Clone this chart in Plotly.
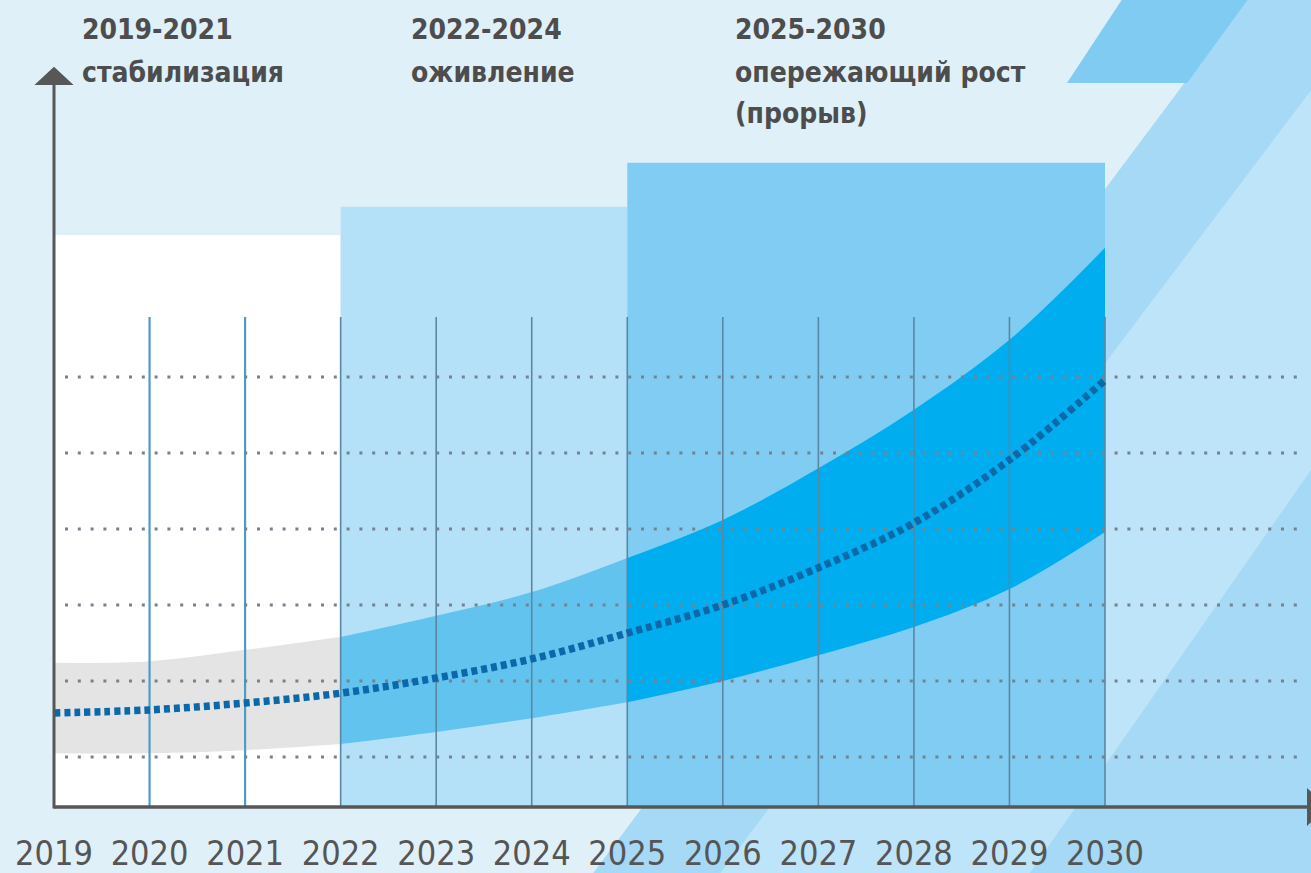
import plotly.graph_objects as go

# ---------------- data ----------------
years = list(range(2019, 2031))
tick_labels = [str(y) for y in years]

# index scale: dotted reference levels are 1..6
center = [1.58, 1.62, 1.71, 1.84, 2.04, 2.29, 2.63, 3.00, 3.49, 4.08, 4.91, 5.96]
upper = [2.24, 2.26, 2.41, 2.58, 2.86, 3.17, 3.62, 4.12, 4.80, 5.57, 6.49, 7.70]
lower = [1.05, 1.05, 1.09, 1.17, 1.33, 1.51, 1.72, 2.00, 2.34, 2.71, 3.21, 3.96]

period_start = [2019, 2022, 2025]
period_end = [2022, 2025, 2030]
period_top = [7.87, 8.24, 8.82]
period_titles = ["2019-2021", "2022-2024", "2025-2030"]
period_names = [["стабилизация"], ["оживление"], ["опережающий рост", "(прорыв)"]]

grid_levels = [1, 2, 3, 4, 5, 6]
vgrid_years = list(range(2020, 2031))
vgrid_top = 6.79
baseline = 0.342

# ---------------- styles ----------------
W, H = 1311, 873
BG = "#e0f0f8"
period_colors = ["#ffffff", "#b5e1f8", "#80ccf2"]
band_colors = ["#e4e4e4", "#63c3ef", "#00aeef"]
TEXT = "#4d4d4d"
AXIS = "#575757"
FONT = "DejaVu Sans Condensed, Liberation Sans Narrow, sans-serif"

X0, X1 = 2018.4348, 2032.156
Y0, Y1 = -0.5263, 10.9605


def px(x, y):
    """pixel -> paper coordinates (decoration only)"""
    return x / W, 1 - y / H


def poly(points):
    pts = [px(x, y) for x, y in points]
    return "M " + " L ".join(f"{a:.5f},{b:.5f}" for a, b in pts) + " Z"


fig = go.Figure()

# period blocks as bars
fig.add_trace(go.Bar(
    x=[(s + e) / 2 for s, e in zip(period_start, period_end)],
    y=[t - baseline for t in period_top],
    base=baseline,
    width=[e - s for s, e in zip(period_start, period_end)],
    marker=dict(color=period_colors, line=dict(width=0)),
    hoverinfo="skip", showlegend=False,
))

# forecast corridor, one segment per period
for s, e, col in zip(period_start, period_end, band_colors):
    idx = [i for i, y in enumerate(years) if s <= y <= e]
    xs = [years[i] for i in idx]
    fig.add_trace(go.Scatter(
        x=xs, y=[lower[i] for i in idx], mode="lines",
        line=dict(width=0, shape="spline", smoothing=1, color=col),
        hoverinfo="skip", showlegend=False))
    fig.add_trace(go.Scatter(
        x=xs, y=[upper[i] for i in idx], mode="lines",
        line=dict(width=0, shape="spline", smoothing=1, color=col),
        fill="tonexty", fillcolor=col,
        hoverinfo="skip", showlegend=False))

# vertical year lines
for grp, col, w in [([y for y in vgrid_years if y < 2022], "#4e9bc7", 2.2),
                    ([y for y in vgrid_years if y >= 2022], "#5a87a3", 1.6)]:
    xs, ys = [], []
    for y in grp:
        xs += [y, y, None]
        ys += [baseline, vgrid_top, None]
    fig.add_trace(go.Scatter(x=xs, y=ys, mode="lines",
                             line=dict(color=col, width=w),
                             hoverinfo="skip", showlegend=False))

# dotted horizontal levels
gx0 = 2019 + 11 / 95.545
gx1 = 2019 + 1246 / 95.545
xs, ys = [], []
for g in grid_levels:
    xs += [gx0, gx1, None]
    ys += [g, g, None]
fig.add_trace(go.Scatter(x=xs, y=ys, mode="lines",
                         line=dict(color="#74838e", width=3, dash="3px,9.8px"),
                         hoverinfo="skip", showlegend=False))

# central trajectory
fig.add_trace(go.Scatter(x=years, y=center, mode="lines",
                         line=dict(color="#0b69aa", width=7.5, dash="6px,4px",
                                   shape="spline", smoothing=1),
                         hoverinfo="skip", showlegend=False))

shapes = []
# background diagonal stripes
shapes.append(dict(type="path", xref="paper", yref="paper", layer="below",
                   path=poly([(1248, -2), (1330, -2), (1330, 880), (1248 - 0.75 * 880, 880)]),
                   fillcolor="#a5d9f5", line=dict(width=0)))
shapes.append(dict(type="path", xref="paper", yref="paper", layer="below",
                   path=poly([(1318, 81), (1318, 460), (1025, 880), (715, 880)]),
                   fillcolor="#bde4f8", line=dict(width=0)))
shapes.append(dict(type="path", xref="paper", yref="paper", layer="below",
                   path=poly([(1123, -2), (1249, -2), (1187, 83), (1067, 83)]),
                   fillcolor="#7fcbf1", line=dict(width=0)))

# axes with arrows
y_arrow_base = 9.842
shapes.append(dict(type="line", xref="x", yref="y", x0=2019, x1=2019,
                   y0=baseline - 0.02, y1=y_arrow_base, line=dict(color=AXIS, width=3), layer="above"))
shapes.append(dict(type="path", xref="x", yref="y", layer="above",
                   path=f"M {2019 - 0.205},{y_arrow_base} L {2019 + 0.205},{y_arrow_base} L 2019,{y_arrow_base + 0.24} Z",
                   fillcolor=AXIS, line=dict(width=0)))
x_arrow_base = 2019 + 1253 / 95.545
shapes.append(dict(type="line", xref="x", yref="y", x0=2019, x1=x_arrow_base,
                   y0=baseline, y1=baseline, line=dict(color=AXIS, width=3.5), layer="above"))
shapes.append(dict(type="path", xref="x", yref="y", layer="above",
                   path=f"M {x_arrow_base},{baseline - 0.25} L {x_arrow_base},{baseline + 0.25} L {x_arrow_base + 0.21},{baseline} Z",
                   fillcolor=AXIS, line=dict(width=0)))

# period headings
annotations = []
head_x = [80, 409, 733]
line_y = [30, 72, 114]
for hx, title, names in zip(head_x, period_titles, period_names):
    for k, txt in enumerate([title] + names):
        ax, ay = px(hx, line_y[k])
        annotations.append(dict(x=ax, y=ay, xref="paper", yref="paper",
                                xanchor="left", yanchor="middle", showarrow=False,
                                text=txt, font=dict(family=FONT, size=28, color=TEXT,
                                                    weight="bold")))

fig.update_layout(
    width=W, height=H,
    margin=dict(l=0, r=0, t=0, b=0),
    paper_bgcolor=BG, plot_bgcolor="rgba(0,0,0,0)",
    shapes=shapes, annotations=annotations,
    showlegend=False,
    xaxis=dict(range=[X0, X1], showgrid=False, zeroline=False, showline=False,
               tickmode="array", tickvals=years, ticktext=tick_labels,
               ticks="", tickfont=dict(family=FONT, size=34, color="#555555"),
               anchor="free", position=1 - 807 / H, ticklabelstandoff=23,
               fixedrange=True),
    yaxis=dict(range=[Y0, Y1], visible=False, fixedrange=True),
)

fig.write_html("out.html", config={"displayModeBar": False},
               post_script="document.body.style.margin='0px';")
